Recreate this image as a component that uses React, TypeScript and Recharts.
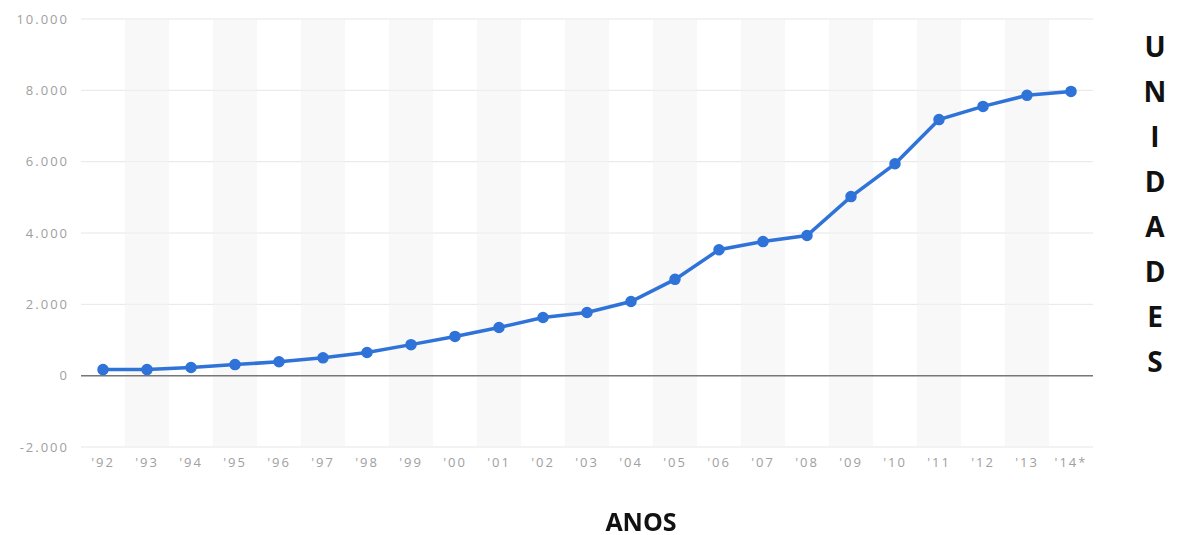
import { ComposedChart, Line, Bar, XAxis, YAxis, CartesianGrid, ReferenceLine } from 'recharts';

// Anos (rótulos do eixo X) e unidades por ano
const years = [
  "'92", "'93", "'94", "'95", "'96", "'97", "'98", "'99", "'00", "'01", "'02", "'03",
  "'04", "'05", "'06", "'07", "'08", "'09", "'10", "'11", "'12", "'13", "'14*",
];
const units = [
  170, 170, 230, 310, 390, 500, 650, 870, 1100, 1350, 1630, 1770,
  2080, 2700, 3530, 3760, 3930, 5020, 5940, 7180, 7550, 7860, 7970,
];
const yTicks = [-2000, 0, 2000, 4000, 6000, 8000, 10000];
const sideLabel = ['U', 'N', 'I', 'D', 'A', 'D', 'E', 'S'];

const FONT = '"Open Sans", "DejaVu Sans", sans-serif';
const BLUE = '#2f73d9';

// faixas cinza alternadas atrás da série
const chartData = years.map((year, i) => ({
  year,
  units: units[i],
  band: i % 2 === 1 ? [yTicks[0], yTicks[yTicks.length - 1]] : null,
}));

const formatThousands = (v: number) => v.toLocaleString('de-DE');

export default function App() {
  return (
    <div
      style={{
        position: 'fixed',
        top: 0,
        left: 0,
        width: 1197,
        height: 535,
        background: '#fff',
        fontFamily: FONT,
      }}
    >
      <ComposedChart
        width={1197}
        height={535}
        data={chartData}
        margin={{ top: 19, right: 104, bottom: 58, left: 0 }}
        barCategoryGap={0}
        barGap={0}
      >
        <CartesianGrid vertical={false} stroke="#e6e6e6" />
        <XAxis
          dataKey="year"
          height={30}
          axisLine={false}
          tickLine={false}
          tickSize={0}
          tickMargin={11}
          interval={0}
          tick={{ fill: '#a0a0a0', fontSize: 13, letterSpacing: 2, fontFamily: FONT }}
        />
        <YAxis
          width={81}
          domain={[-2000, 10000]}
          ticks={yTicks}
          axisLine={false}
          tickLine={false}
          tickSize={0}
          tickMargin={12}
          tickFormatter={formatThousands}
          tick={{ fill: '#a0a0a0', fontSize: 13, letterSpacing: 2, fontFamily: FONT }}
        />
        <Bar dataKey="band" fill="#f2f2f2" fillOpacity={0.5} isAnimationActive={false} />
        <ReferenceLine y={0} stroke="#777" strokeWidth={1.5} />
        <Line
          type="linear"
          dataKey="units"
          stroke={BLUE}
          strokeWidth={3.5}
          dot={{ r: 5, fill: BLUE, stroke: BLUE, strokeWidth: 1.5 }}
          isAnimationActive={false}
        />
      </ComposedChart>

      <div
        style={{
          position: 'absolute',
          left: 1135,
          top: 24,
          width: 40,
          textAlign: 'center',
          fontWeight: 700,
          fontSize: 28,
          lineHeight: '45px',
          color: '#111',
        }}
      >
        {sideLabel.map((ch, i) => (
          <div key={i}>{ch}</div>
        ))}
      </div>

      <div
        style={{
          position: 'absolute',
          left: 541,
          top: 510,
          width: 200,
          textAlign: 'center',
          fontWeight: 700,
          fontSize: 25,
          lineHeight: '23px',
          color: '#111',
        }}
      >
        ANOS
      </div>
    </div>
  );
}
